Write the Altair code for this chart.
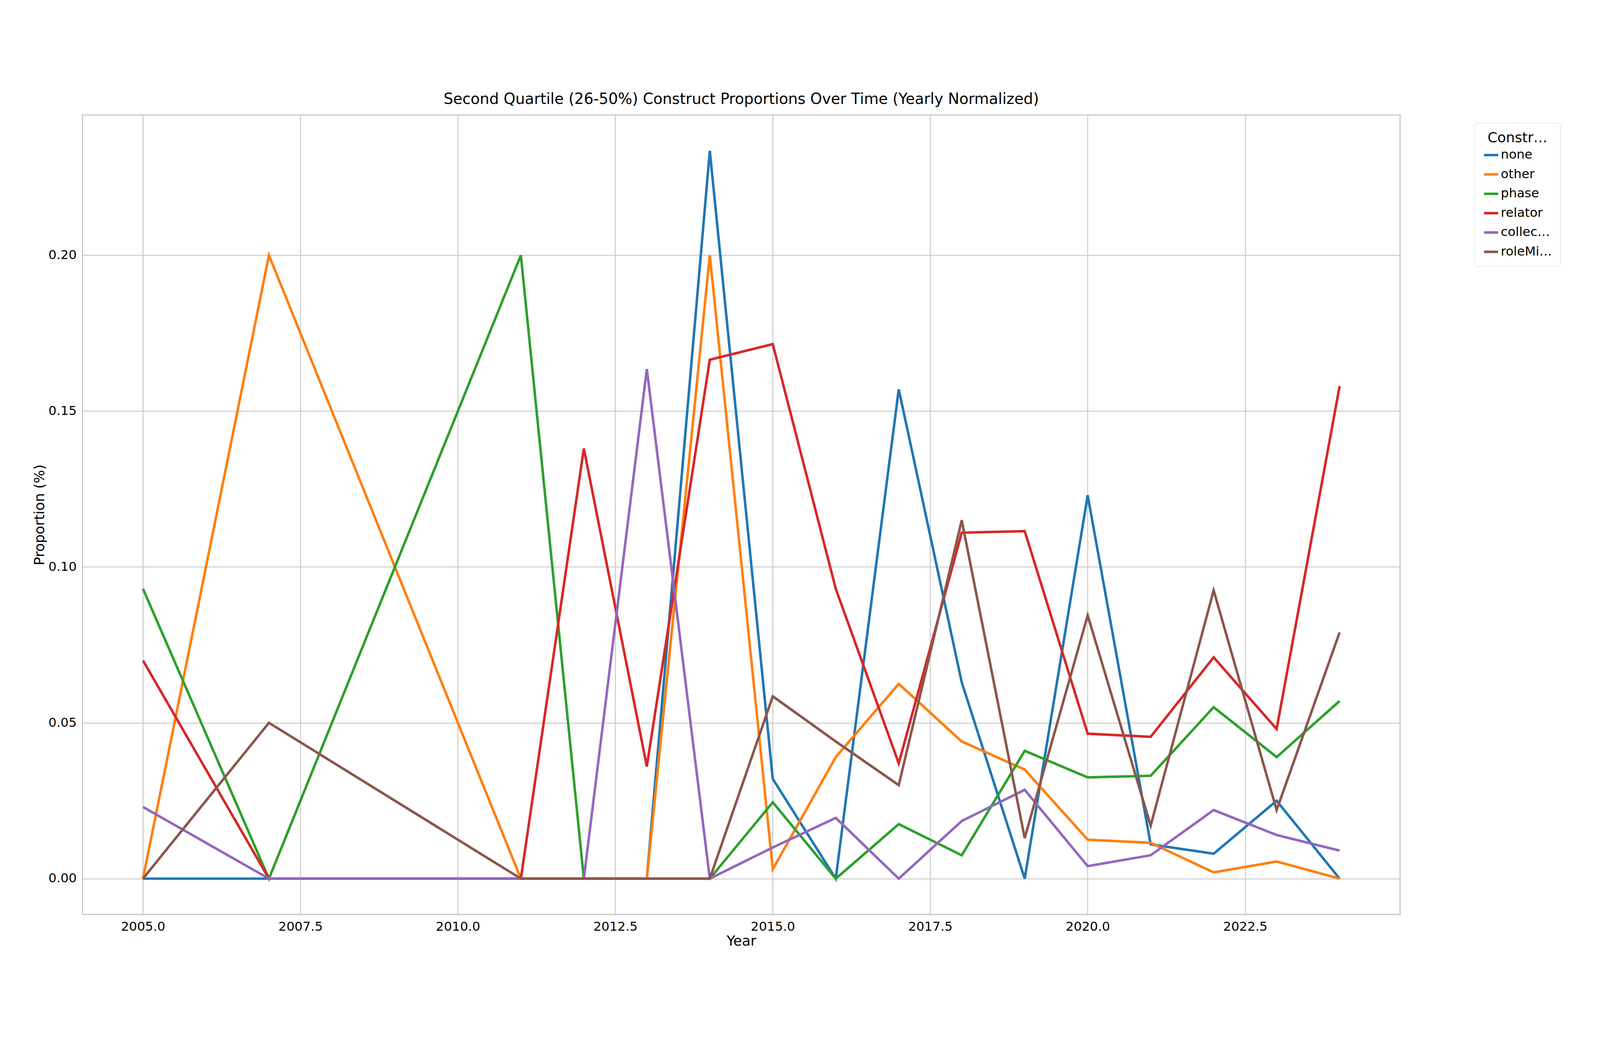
import altair as alt
import pandas as pd

years = [2005, 2007, 2011, 2012, 2013, 2014, 2015, 2016, 2017, 2018, 2019, 2020, 2021, 2022, 2023, 2024]
constructs = ["none", "other", "phase", "relator", "collective", "roleMixin"]
colors = ["#1f77b4", "#ff7f0e", "#2ca02c", "#d62728", "#9467bd", "#8c564b"]

none_vals = [0, 0, 0, 0, 0, 0.2335, 0.032, 0, 0.157, 0.063, 0, 0.123, 0.011, 0.008, 0.025, 0]
other_vals = [0, 0.2, 0, 0, 0, 0.2, 0.003, 0.039, 0.0625, 0.044, 0.035, 0.0125, 0.0115, 0.002, 0.0055, 0]
phase_vals = [0.093, 0, 0.2, 0, 0, 0, 0.0245, 0, 0.0175, 0.0075, 0.041, 0.0325, 0.033, 0.055, 0.039, 0.057]
relator_vals = [0.07, 0, 0, 0.138, 0.036, 0.1665, 0.1715, 0.093, 0.037, 0.111, 0.1115, 0.0465, 0.0455, 0.071, 0.048, 0.158]
collective_vals = [0.023, 0, 0, 0, 0.1635, 0, 0.01, 0.0195, 0, 0.0185, 0.0285, 0.004, 0.0075, 0.022, 0.014, 0.009]
rolemixin_vals = [0, 0.05, 0, 0, 0, 0, 0.0585, 0.044, 0.03, 0.115, 0.013, 0.0845, 0.017, 0.0925, 0.022, 0.079]

series = [none_vals, other_vals, phase_vals, relator_vals, collective_vals, rolemixin_vals]
rows = []
for name, vals in zip(constructs, series):
    for y, v in zip(years, vals):
        rows.append({"Year": y, "Proportion": v, "Construct": name, "order": constructs.index(name)})
df = pd.DataFrame(rows)

font = "DejaVu Sans"

chart = (
    alt.Chart(df)
    .mark_line(strokeWidth=7.5, clip=True)
    .encode(
        x=alt.X("Year:Q", title="Year",
                scale=alt.Scale(domain=[2004.04, 2024.96], nice=False, zero=False),
                axis=alt.Axis(values=[2005, 2007.5, 2010, 2012.5, 2015, 2017.5, 2020, 2022.5],
                              format=".1f")),
        y=alt.Y("Proportion:Q", title="Proportion (%)",
                scale=alt.Scale(domain=[-0.0115, 0.245], nice=False, zero=False),
                axis=alt.Axis(values=[0, 0.05, 0.1, 0.15, 0.2], format=".2f")),
        color=alt.Color("Construct:N", title="Constructs",
                        scale=alt.Scale(domain=constructs, range=colors),
                        legend=alt.Legend(orient="none", legendX=4174, legendY=24,
                                          symbolType="stroke", symbolStrokeWidth=7.5,
                                          symbolSize=1800, labelFontSize=38, titleFontSize=42,
                                          titleFontWeight="normal", titleAlign="center",
                                          titleAnchor="middle", rowPadding=14,
                                          strokeColor="#cccccc", padding=24, cornerRadius=6,
                                          fillColor="white")),
        order="order:Q",
        detail="Construct:N",
    )
    .properties(
        width=3950, height=2396,
        title=alt.Title("Second Quartile (26-50%) Construct Proportions Over Time (Yearly Normalized)",
                        fontSize=45, fontWeight="normal", font=font, offset=24),
        autosize=alt.AutoSizeParams(type="none"),
        padding={"left": 238, "top": 106, "right": 590, "bottom": 180},
    )
    .configure_axis(
        labelFont=font, titleFont=font, labelFontSize=38, titleFontSize=42,
        titleFontWeight="normal", gridColor="#cccccc", gridWidth=3,
        domain=False, ticks=False, labelPadding=18, titleColor="black", labelColor="black",
    )
    .configure_legend(labelFont=font, titleFont=font)
    .configure_view(stroke="#cccccc", strokeWidth=4)
)

chart.save("out.html", embed_options={"renderer": "svg", "actions": False})
